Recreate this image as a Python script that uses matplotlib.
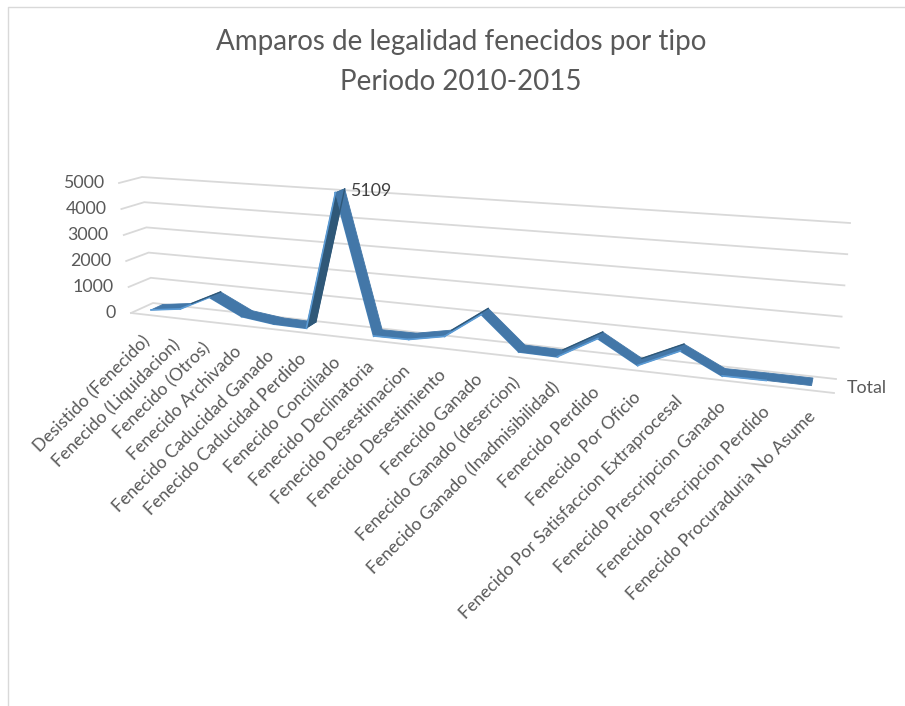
import matplotlib
matplotlib.use("Agg")
import matplotlib.pyplot as plt
import numpy as np

categories = [
    "Desistido (Fenecido)", "Fenecido (Liquidacion)", "Fenecido (Otros)",
    "Fenecido Archivado", "Fenecido Caducidad Ganado", "Fenecido Caducidad Perdido",
    "Fenecido Conciliado", "Fenecido Declinatoria", "Fenecido Desestimacion",
    "Fenecido Desestimiento", "Fenecido Ganado", "Fenecido Ganado (desercion)",
    "Fenecido Ganado (Inadmisibilidad)", "Fenecido Perdido", "Fenecido Por Oficio",
    "Fenecido Por Satisfaccion Extraprocesal", "Fenecido Prescripcion Ganado",
    "Fenecido Prescripcion Perdido", "Fenecido Procuraduria No Asume",
]
values = [85, 250, 820, 226, 80, 60, 5109, 50, 65, 315, 1220, 70, 50, 810, 60, 690, 30, 40, 40]
yticks = [0, 1000, 2000, 3000, 4000, 5000]
peak_label = "5109"
series_name = "Total"
title = "Amparos de legalidad fenecidos por tipo\nPeriodo 2010-2015"

GRID = "#d9d9d9"
TEXT = "#595959"
VMAX = 5000
N = len(categories)
FAR_RATIO = 0.79

# wall corners in pixels: [depth][bottom/top][left/right]
CORNERS = np.array([
    [[(153, 303), (836, 379)], [(142, 177), (850, 223)]],
    [[(131, 313), (834, 393)], [(119, 183), (848, 233)]],
], dtype=float)


def project(u, v, d):
    # the left end of the chart is further away, so x is squeezed there
    s = FAR_RATIO * u / (1 - (1 - FAR_RATIO) * u)
    t = v / VMAX
    back = (1 - t) * ((1 - s) * CORNERS[0, 0, 0] + s * CORNERS[0, 0, 1]) + t * ((1 - s) * CORNERS[0, 1, 0] + s * CORNERS[0, 1, 1])
    front = (1 - t) * ((1 - s) * CORNERS[1, 0, 0] + s * CORNERS[1, 0, 1]) + t * ((1 - s) * CORNERS[1, 1, 0] + s * CORNERS[1, 1, 1])
    return (1 - d) * back + d * front


def cat_u(i):
    return (i + 0.5) / N


plt.rcParams["font.family"] = ["Lato", "DejaVu Sans"]
fig = plt.figure(figsize=(9.05, 7.06), dpi=100)
ax = fig.add_axes([0, 0, 1, 1])
ax.set_xlim(0, 905)
ax.set_ylim(706, 0)
ax.axis("off")

# chart frame
ax.plot([8, 8, 905], [706, 7, 7], color="#d9d9d9", lw=1.0)

# gridlines on back wall and side wall
for v in yticks:
    a, b, c = project(0, v, 1), project(0, v, 0), project(1, v, 0)
    ax.plot([a[0], b[0], c[0]], [a[1], b[1], c[1]], color=GRID, lw=1.3, solid_joinstyle="miter")
    ax.text(a[0] - 15, a[1], f"{v}", ha="right", va="center", fontsize=12.8, color=TEXT)
a, b = project(0, 0, 1), project(1, 0, 1)
ax.plot([a[0], b[0]], [a[1], b[1]], color=GRID, lw=1.3)

# ribbon, one quad per segment
for i in range(N - 1):
    p0b = project(cat_u(i), values[i], 0.2)
    p0f = project(cat_u(i), values[i], 0.75)
    p1b = project(cat_u(i + 1), values[i + 1], 0.2)
    p1f = project(cat_u(i + 1), values[i + 1], 0.75)
    rise = values[i + 1] - values[i]
    face = "#2f5878" if rise > 3000 else "#4377a8"
    quad = np.array([p0b, p1b, p1f, p0f])
    ax.fill(quad[:, 0], quad[:, 1], color=face, lw=0.6, zorder=3)
    if rise > 0:
        ax.plot([p0f[0], p1f[0]], [p0f[1], p1f[1]], color="#5b9bd5", lw=1.2, zorder=4)
    if rise > 500:
        ax.plot([p0b[0], p1b[0]], [p0b[1], p1b[1]], color="#2f5878", lw=1.0, zorder=4)
    if rise < 0:
        ax.plot([p0f[0], p1f[0]], [p0f[1], p1f[1]], color="#4a86bd", lw=1.5, zorder=2)

# category labels
for i, name in enumerate(categories):
    p = project(cat_u(i), 0, 1)
    ax.text(p[0] + 2, p[1] + 24, name, rotation=45, rotation_mode="anchor", ha="right", va="center",
            fontsize=12.6, color=TEXT)

peak = project(cat_u(int(np.argmax(values))), max(values), 0.5)
ax.text(peak[0] + 10, peak[1], peak_label, ha="left", va="center", fontsize=12.8, color="#404040")
ax.text(847, 388, series_name, ha="left", va="center", fontsize=12.8, color=TEXT)

ax.text(461, 42, title.split("\n")[0], ha="center", va="center", fontsize=20, color=TEXT)
ax.text(461, 82, title.split("\n")[1], ha="center", va="center", fontsize=20, color=TEXT)

fig.savefig("out.png", dpi=100)
